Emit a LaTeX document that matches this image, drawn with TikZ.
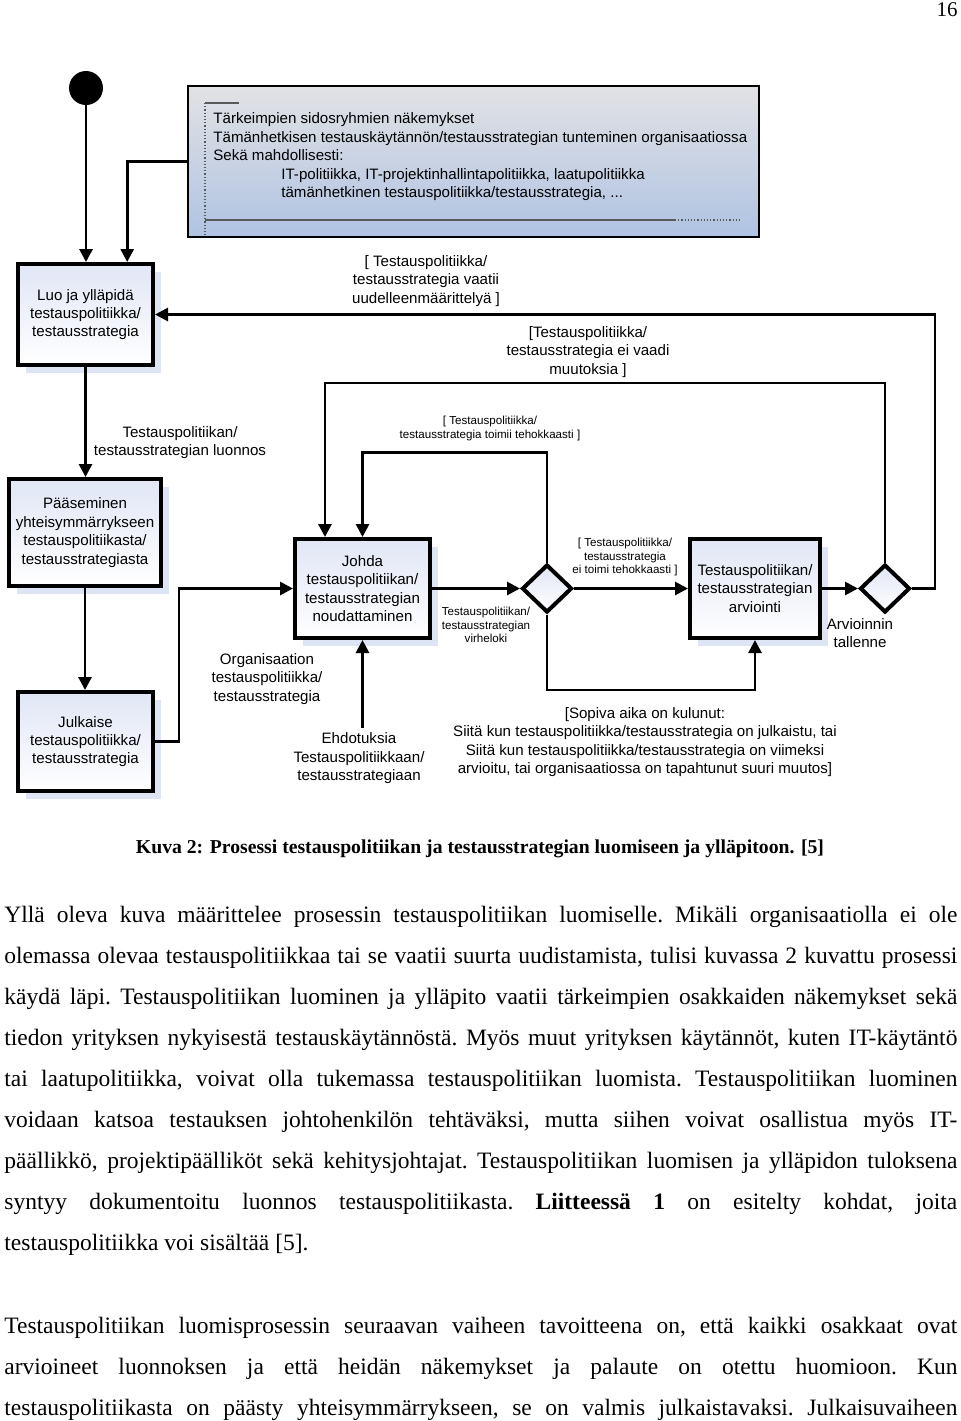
\documentclass[tikz,border=0pt]{standalone}
\usepackage{fontspec}
\setmainfont{Liberation Serif}
\newfontfamily\arialfont{Liberation Sans}
\usetikzlibrary{arrows.meta, calc, shapes.geometric, shadows}
\definecolor{boxTop}{HTML}{E1E6F6}
\definecolor{boxShadow}{HTML}{DDE4F4}
\definecolor{noteTop}{HTML}{E2E2E4}
\definecolor{noteBottom}{HTML}{AFC3E3}
\definecolor{noteLine}{gray}{0.35}

\tikzset{
  actbox/.style={draw, line width=2pt, top color=boxTop, bottom color=white,
    drop shadow={shadow xshift=4pt, shadow yshift=-4pt, fill=boxShadow, opacity=1},
    align=center, inner sep=0pt, font=\arialfont\fontsize{7.55}{9.2}\selectfont},
  decision/.style={diamond, draw, line width=2pt, top color=boxTop, bottom color=white,
    minimum width=25pt, minimum height=24pt, inner sep=0pt},
  flow/.style={line width=1.4pt, -{Triangle[length=6.5pt, width=6.5pt]}},
  lbl/.style={align=center, inner sep=0pt, font=\arialfont\fontsize{7.55}{9.25}\selectfont},
  smalllbl/.style={align=center, inner sep=0pt, font=\arialfont\fontsize{5.8}{6.8}\selectfont},
  bodytext/.style={anchor=north west, inner sep=0pt, text width=476.5pt, align=justify,
    font=\frenchspacing\fontsize{11.75}{20.5}\selectfont},
}

\begin{document}
\begin{tikzpicture}[x=0.5pt, y=-0.5pt]
    \useasboundingbox (0,0) rectangle (960,1421);

    % Page number
    \node[anchor=base east, inner sep=0pt, font=\fontsize{10.5}{12}\selectfont] (pageNo) at (958,16) {16};

    % Start and note
    \node[circle, fill=black, minimum size=17pt, inner sep=0pt] (start) at (86,88) {};
    \node[draw=black, line width=0.9pt, top color=noteTop, bottom color=noteBottom,
        minimum width=285.5pt, minimum height=75.5pt, inner sep=0pt] (note) at (473.5,161.5) {};
    \draw[noteLine, line width=0.6pt] (205,103) -- (239,103);
    \draw[noteLine, line width=0.6pt, densely dotted] (205,103) -- (205,237);
    \draw[noteLine, line width=0.6pt] (205,220) -- (675,220);
    \draw[noteLine, line width=0.6pt, densely dotted] (675,220) -- (742,220);
    \node[lbl, align=left, anchor=north west] (noteText) at (213,112.5) {Tärkeimpien sidosryhmien näkemykset\\
        Tämänhetkisen testauskäytännön/testausstrategian tunteminen organisaatiossa\\
        Sekä mahdollisesti:\\
        \hspace*{34pt}IT-politiikka, IT-projektinhallintapolitiikka, laatupolitiikka\\
        \hspace*{34pt}tämänhetkinen testauspolitiikka/testausstrategia, ...};

    % Activities
    \node[actbox, minimum width=67.5pt, minimum height=50.5pt] (luo) at (85.5,314.5) {Luo ja ylläpidä\\testauspolitiikka/\\testausstrategia};
    \node[actbox, minimum width=76pt, minimum height=53.5pt] (paa) at (85,532.5) {Pääseminen\\yhteisymmärrykseen\\testauspolitiikasta/\\testausstrategiasta};
    \node[actbox, minimum width=67.5pt, minimum height=49.5pt] (julkaise) at (85.5,741.5) {Julkaise\\testauspolitiikka/\\testausstrategia};
    \node[actbox, minimum width=67.5pt, minimum height=49.5pt] (johda) at (362.5,588.5) {Johda\\testauspolitiikan/\\testausstrategian\\noudattaminen};
    \node[actbox, minimum width=65pt, minimum height=49.5pt] (arvio) at (755,588.5) {Testauspolitiikan/\\testausstrategian\\arviointi};
    \node[decision] (d1) at (547,588.5) {};
    \node[decision] (d2) at (885,588.5) {};

    % Labels
    \node[lbl] (luonnos) at (180,442.5) {Testauspolitiikan/\\testausstrategian luonnos};
    \node[lbl] (vaatii) at (426,281) {[ Testauspolitiikka/\\testausstrategia vaatii\\uudelleenmäärittelyä ]};
    \node[lbl] (eiVaadi) at (588,352) {[Testauspolitiikka/\\testausstrategia ei vaadi\\muutoksia ]};
    \node[smalllbl] (toimii) at (490,428.5) {[ Testauspolitiikka/\\testausstrategia toimii tehokkaasti ]};
    \node[smalllbl] (virheloki) at (486,625) {Testauspolitiikan/\\testausstrategian\\virheloki};
    \node[smalllbl] (eiToimi) at (625,557) {[ Testauspolitiikka/\\testausstrategia\\ei toimi tehokkaasti ]};
    \node[lbl] (tallenne) at (860,633) {Arvioinnin\\tallenne};
    \node[lbl] (sopiva) at (645,742) {[Sopiva aika on kulunut:\\
        Siitä kun testauspolitiikka/testausstrategia on julkaistu, tai\\
        Siitä kun testauspolitiikka/testausstrategia on viimeksi\\
        arvioitu, tai organisaatiossa on tapahtunut suuri muutos]};
    \node[lbl] (org) at (267,679) {Organisaation\\testauspolitiikka/\\testausstrategia};
    \node[lbl, inner sep=2.5pt] (ehdotus) at (359,758.5) {Ehdotuksia\\Testauspolitiikkaan/\\testausstrategiaan};

    % Flow
    \draw[flow] (start.south) -- (start |- luo.north);
    \draw[flow] (note.west) -| ($(luo.north)!0.6!(luo.north east)$);
    \draw[flow] (luo.south) -- (luo.south |- paa.north);
    \draw[flow] (paa.south) -- (paa.south |- julkaise.north);
    \draw[flow] (julkaise.east) -- ++(24,0) |- (johda.west);
    \draw[flow] (ehdotus.north -| johda.south) -- (johda.south);
    \draw[flow] (johda.east) -- (d1.west);
    \draw[flow] (d1.north) -- ++(0,-110) -| (johda.north);
    \draw[flow] (d1.east) -- (arvio.west);
    \draw[flow] (d1.south) -- ++(0,75.5) -| (arvio.south);
    \draw[flow] (arvio.east) -- (d2.west);
    \draw[flow] (d2.north) -- ++(0,-179.5) -| ($(johda.north)!0.54!(johda.north west)$);
    \draw[flow] (d2.east) -- ++(23,0) |- (luo.east);

    % Caption and text
    \node[inner sep=0pt, font=\bfseries\fontsize{9.85}{11}\selectfont] (caption) at (480,849) {Kuva 2: Prosessi testauspolitiikan ja testausstrategian luomiseen ja ylläpitoon. [5]};
    \node[bodytext] (para1) at (4,906) {\tolerance=10000 \hbadness=10000
        Yllä oleva kuva määrittelee prosessin testauspolitiikan luomiselle. Mikäli organisaatiolla ei ole\linebreak
        olemassa olevaa testauspolitiikkaa tai se vaatii suurta uudistamista, tulisi kuvassa 2 kuvattu prosessi\linebreak
        käydä läpi. Testauspolitiikan luominen ja ylläpito vaatii tärkeimpien osakkaiden näkemykset sekä\linebreak
        tiedon yrityksen nykyisestä testauskäytännöstä. Myös muut yrityksen käytännöt, kuten IT-käytäntö\linebreak
        tai laatupolitiikka, voivat olla tukemassa testauspolitiikan luomista. Testauspolitiikan luominen\linebreak
        voidaan katsoa testauksen johtohenkilön tehtäväksi, mutta siihen voivat osallistua myös IT-\linebreak
        päällikkö, projektipäälliköt sekä kehitysjohtajat. Testauspolitiikan luomisen ja ylläpidon tuloksena\linebreak
        syntyy dokumentoitu luonnos testauspolitiikasta. \textbf{Liitteessä 1} on esitelty kohdat, joita\linebreak
        testauspolitiikka voi sisältää [5].};
    \node[bodytext] (para2) at (4,1317) {\tolerance=10000 \hbadness=10000
        Testauspolitiikan luomisprosessin seuraavan vaiheen tavoitteena on, että kaikki osakkaat ovat\linebreak
        arvioineet luonnoksen ja että heidän näkemykset ja palaute on otettu huomioon. Kun\linebreak
        testauspolitiikasta on päästy yhteisymmärrykseen, se on valmis julkaistavaksi. Julkaisuvaiheen{\parfillskip=0pt\par}};
\end{tikzpicture}
\end{document}
